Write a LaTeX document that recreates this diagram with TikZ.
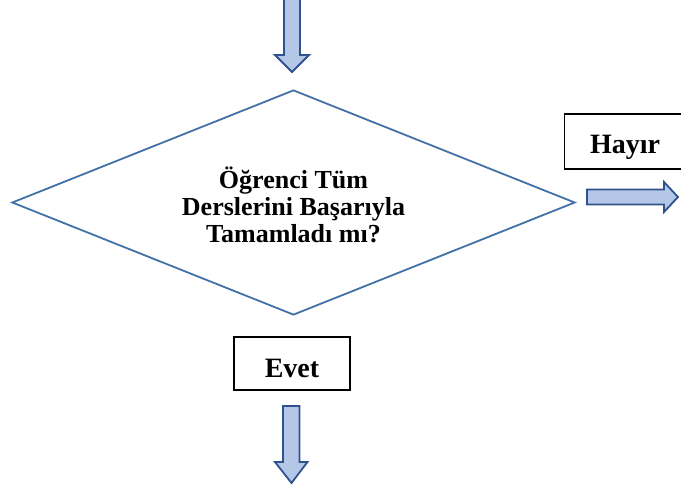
\documentclass[tikz,border=0pt]{standalone}
\usepackage{fontspec}
\setmainfont{Liberation Serif}
\usetikzlibrary{shapes.geometric,positioning}
\definecolor{decline}{RGB}{65,113,166}
\definecolor{arrowfill}{RGB}{180,199,231}
\definecolor{arrowline}{RGB}{47,82,143}

\begin{document}
\begin{tikzpicture}[x=1pt, y=-1pt, 
  decision/.style = {draw=decline, line width=1.8pt, diamond, shape aspect=2.5, minimum width=563pt, minimum height=225pt, inner sep=0pt},
  question/.style = {align=center, inner sep=0pt, font=\fontsize{26}{27}\selectfont\bfseries},
  answer/.style = {draw, line width=1.1pt, fill=white, inner sep=0pt, text depth=0pt, font=\fontsize{28}{30}\selectfont\bfseries},
  blockarrow/.style = {draw=arrowline, fill=arrowfill, line width=1.8pt, line join=miter}]
\useasboundingbox (0,0) rectangle (681,490);
\node[decision] (check) at (293.5,202.5) {};
\node[question] (ask) at ([yshift=-2pt]check.center) {Öğrenci Tüm\\Derslerini Başarıyla\\Tamamladı mı?};
\node[answer, minimum width=116pt, minimum height=53pt, text height=27pt] (evet) at (292,363.5) {Evet};
\node[answer, minimum width=130pt, minimum height=55pt, text height=24pt, anchor=west] (hayir) at (564,141.5) {Hayır\hspace*{9pt}};
\coordinate (intop) at (292,-3);
\coordinate (outright) at (587,197);
\coordinate (outdown) at (291.5,406);
% incoming
\draw[blockarrow] (intop) ++(-8,0) -- ++(0,58) -- ++(-9,0) -- (292,72) -- (309,55) -- ++(-9,0) -- ++(0,-58) -- cycle;
% Hayir
\draw[blockarrow] (outright) ++(0,-7.5) -- ++(77,0) -- ++(0,-7.5) -- (678,197) -- (664,212) -- ++(0,-7.5) -- ++(-77,0) -- cycle;
% Evet
\draw[blockarrow] (outdown) ++(-8.5,0) -- ++(0,56) -- ++(-8,0) -- (291.5,483) -- (307.5,462) -- ++(-8,0) -- ++(0,-56) -- cycle;
\end{tikzpicture}
\end{document}
